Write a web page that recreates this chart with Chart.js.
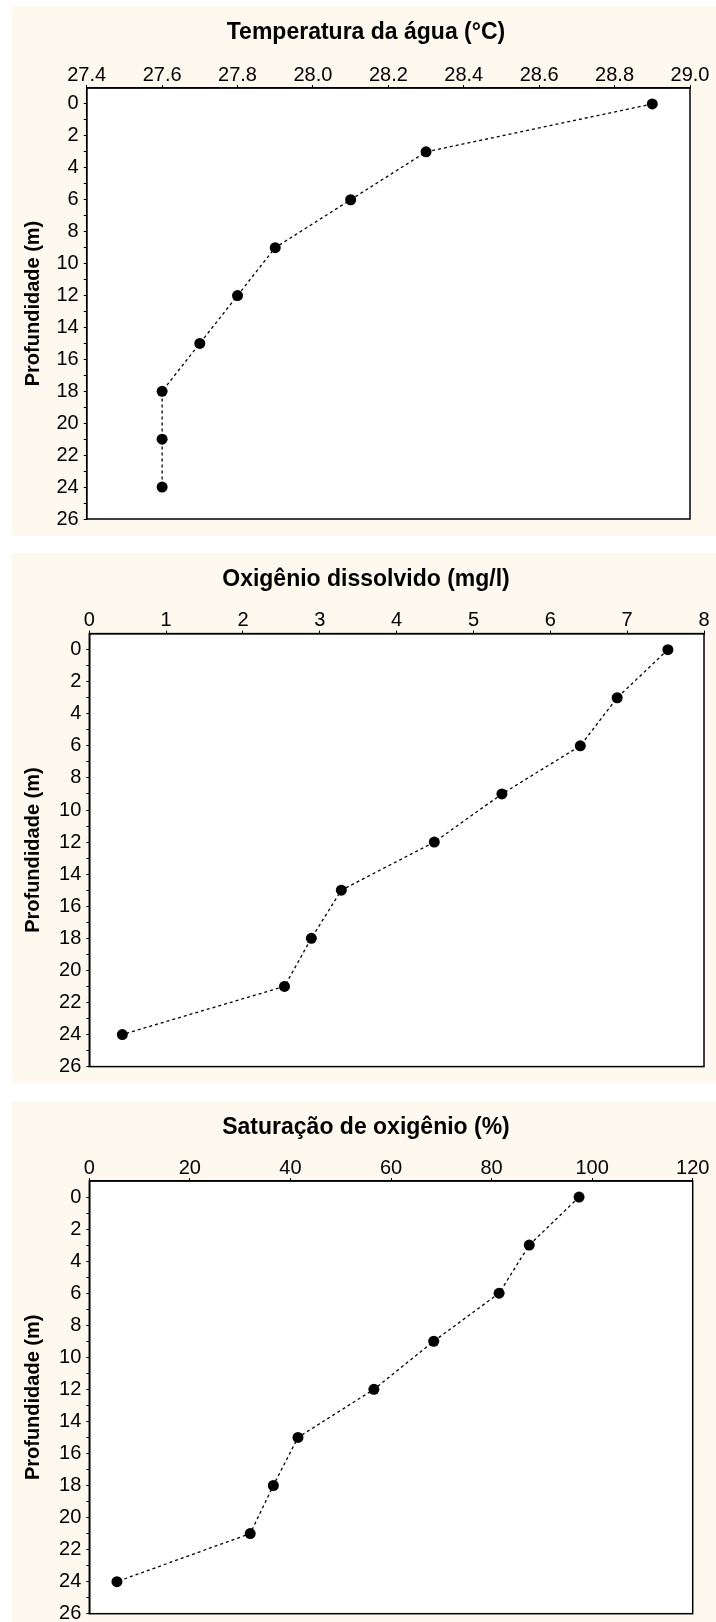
<!DOCTYPE html>
<html lang="pt">
<head>
<meta charset="UTF-8">
<title>Perfis verticais</title>
<script src="https://cdn.jsdelivr.net/npm/chart.js@4.4.1/dist/chart.umd.min.js"></script>
<style>
    body { margin: 0; background: #fff; width: 716px; height: 1622px; overflow: hidden; }
    .panel { position: absolute; left: 12px; width: 704px; background: #fdf9ef; }
    canvas { display: block; }
</style>
</head>
<body>
<div class="panel" style="top:6px;height:530px"><canvas id="c1" width="704" height="530"></canvas></div>
<div class="panel" style="top:553px;height:530px"><canvas id="c2" width="704" height="530"></canvas></div>
<div class="panel" style="top:1101px;height:521px"><canvas id="c3" width="704" height="521"></canvas></div>

<script>
    // data
    const profundidade = [0, 3, 6, 9, 12, 15, 18, 21, 24];
    const temperatura = [28.9, 28.3, 28.1, 27.9, 27.8, 27.7, 27.6, 27.6, 27.6];
    const oxigenio = [7.53, 6.87, 6.39, 5.37, 4.49, 3.28, 2.89, 2.54, 0.43];
    const saturacao = [97.4, 87.5, 81.5, 68.5, 56.6, 41.5, 36.6, 32.0, 5.5];

    // tick labels
    const depthTicks = [0, 2, 4, 6, 8, 10, 12, 14, 16, 18, 20, 22, 24, 26];
    const tempTicks = [27.4, 27.6, 27.8, 28.0, 28.2, 28.4, 28.6, 28.8, 29.0];
    const oxiTicks = [0, 1, 2, 3, 4, 5, 6, 7, 8];
    const satTicks = [0, 20, 40, 60, 80, 100, 120];

    const FONT = "'Liberation Sans', Arial, sans-serif";

    // white plot box with a frame on all four sides
    const frame = {
        id: 'frame',
        beforeDraw(chart) {
            const a = chart.chartArea, ctx = chart.ctx;
            ctx.save();
            ctx.fillStyle = '#fff';
            ctx.fillRect(a.left, a.top, a.right - a.left, a.bottom - a.top);
            ctx.restore();
        },
        afterDraw(chart) {
            const a = chart.chartArea, ctx = chart.ctx;
            ctx.save();
            ctx.strokeStyle = '#000';
            ctx.lineWidth = 1.5;
            ctx.strokeRect(a.left, a.top, a.right - a.left, a.bottom - a.top);
            ctx.restore();
        }
    };

    function makeChart(id, title, values, xTicks, decimals, box) {
        const R = box.w - box.right;
        const L = R + 4;
        new Chart(document.getElementById(id), {
            type: 'line',
            data: {
                datasets: [{
                    data: values.map((v, i) => ({ x: v, y: profundidade[i] })),
                    borderColor: '#000',
                    borderWidth: 1.3,
                    borderDash: [3, 3],
                    pointRadius: 5.5,
                    pointBackgroundColor: '#000',
                    pointBorderWidth: 0,
                    tension: 0
                }]
            },
            options: {
                responsive: false,
                animation: false,
                layout: { padding: { left: L, right: R, top: 0, bottom: box.h - box.bottom } },
                plugins: {
                    legend: { display: false },
                    tooltip: { enabled: false },
                    title: {
                        display: true,
                        text: title,
                        color: '#000',
                        font: { family: FONT, size: 23, weight: 'bold', lineHeight: 1.2 },
                        padding: { top: 13, bottom: 0 }
                    }
                },
                scales: {
                    x: {
                        type: 'linear',
                        position: 'top',
                        min: xTicks[0],
                        max: xTicks[xTicks.length - 1],
                        afterBuildTicks: s => { s.ticks = xTicks.map(v => ({ value: v })); },
                        afterFit: s => { s.height = box.top - 13 - 27.6; s.paddingLeft = 0; s.paddingRight = 0; },
                        ticks: {
                            color: '#000',
                            padding: 0,
                            maxRotation: 0,
                            font: { family: FONT, size: 20, lineHeight: 1 },
                            callback: v => v.toFixed(decimals)
                        },
                        grid: { drawOnChartArea: false, tickLength: 3, color: '#000', tickWidth: 1 },
                        border: { display: true, color: '#000', width: 1.5 }
                    },
                    y: {
                        type: 'linear',
                        reverse: true,
                        min: -1,
                        max: 26,
                        afterBuildTicks: s => {
                            s.ticks = [];
                            for (let d = 0; d <= 26; d++) s.ticks.push({ value: d });
                        },
                        afterFit: s => { s.width = box.left - L; s.paddingTop = 0; s.paddingBottom = 0; },
                        ticks: {
                            color: '#000',
                            padding: 5,
                            autoSkip: false,
                            font: { family: FONT, size: 20 },
                            callback: v => depthTicks.includes(v) ? String(v) : ''
                        },
                        grid: { drawOnChartArea: false, tickLength: 3, color: '#000' },
                        border: { display: true, color: '#000', width: 1.5 },
                        title: {
                            display: true,
                            text: 'Profundidade (m)',
                            color: '#000',
                            font: { family: FONT, size: 20, weight: 'bold', lineHeight: 1.2 },
                            padding: { top: 21 - L - 12, bottom: 0 }
                        }
                    }
                }
            },
            plugins: [frame]
        });
    }

    makeChart('c1', 'Temperatura da água (°C)', temperatura, tempTicks, 1,
        { w: 704, h: 530, left: 74.7, right: 678, top: 82, bottom: 513 });
    makeChart('c2', 'Oxigênio dissolvido (mg/l)', oxigenio, oxiTicks, 0,
        { w: 704, h: 530, left: 77.3, right: 692, top: 80.6, bottom: 513.6 });
    makeChart('c3', 'Saturação de oxigênio (%)', saturacao, satTicks, 0,
        { w: 704, h: 521, left: 77.3, right: 680.7, top: 80, bottom: 512.7 });
</script>
</body>
</html>
